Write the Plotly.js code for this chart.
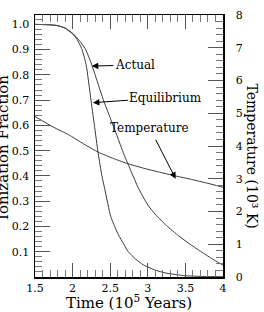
<!DOCTYPE html>
<html>
<head>
<meta charset="utf-8">
<script src="https://cdn.plot.ly/plotly-3.0.1.min.js"></script>
<style>html,body{margin:0;padding:0;background:#fff;}#chart{width:264px;height:312px;}</style>
</head>
<body>
<div id="chart"></div>
<script>
// Actual ionization fraction
var timeActual = [1.5,1.7,1.8,1.9,2.0,2.05,2.1,2.165,2.21,2.255,2.33,2.41,2.5,2.59,2.68,2.78,2.87,3.0,3.1,3.25,3.41,3.55,3.69,3.85,4.0];
var fracActual = [1.0,0.998,0.995,0.985,0.965,0.95,0.932,0.905,0.875,0.84,0.772,0.70,0.63,0.56,0.487,0.417,0.355,0.285,0.248,0.203,0.163,0.132,0.104,0.073,0.047];
// Equilibrium ionization fraction
var timeEquil = [1.5,1.7,1.8,1.9,2.0,2.06,2.12,2.18,2.24,2.29,2.34,2.39,2.43,2.507,2.56,2.61,2.68,2.74,2.84,2.94,3.1,3.25,3.5,3.75,4.0];
var fracEquil = [1.0,0.998,0.995,0.985,0.962,0.94,0.905,0.84,0.71,0.60,0.49,0.40,0.345,0.239,0.20,0.167,0.13,0.10,0.07,0.048,0.027,0.015,0.005,0.002,0.001];
// Temperature (10^3 K)
var timeTemp = [1.5,1.75,1.943,2.15,2.342,2.53,2.72,2.93,3.14,3.36,3.58,3.8,4.0];
var tempVals = [4.90,4.57,4.35,4.06,3.81,3.63,3.47,3.33,3.21,3.09,2.98,2.86,2.74];
// Tick labels
var fracTickVals = [0.1,0.2,0.3,0.4,0.5,0.6,0.7,0.8,0.9,1.0];
var fracTickText = ["0.1","0.2","0.3","0.4","0.5","0.6","0.7","0.8","0.9","1.0"];
var timeTickVals = [1.5,2,2.5,3,3.5,4];
var timeTickText = ["1.5","2","2.5","3","3.5","4"];

var FONT = "DejaVu Serif";
var lineStyle = {color:"#3a3a3a", width:1, shape:"spline", smoothing:0.5};

var traces = [
  {x: timeActual, y: fracActual, mode:"lines", line: lineStyle, hoverinfo:"skip", showlegend:false},
  {x: timeEquil, y: fracEquil, mode:"lines", line: lineStyle, hoverinfo:"skip", showlegend:false},
  {x: timeTemp, y: tempVals, yaxis:"y2", mode:"lines", line: lineStyle, hoverinfo:"skip", showlegend:false}
];

var layout = {
  width: 264, height: 312,
  margin: {l:35, r:41, t:15, b:35, pad:0},
  paper_bgcolor:"#fff", plot_bgcolor:"#fff",
  font: {family: FONT, size: 11, color:"#000"},
  showlegend:false,
  xaxis: {
    range:[1.5,4], tickmode:"array", tickvals: timeTickVals, ticktext: timeTickText,
    ticks:"inside", ticklen:14, tickwidth:1, tickcolor:"#555",
    minor:{dtick:0.1, tick0:1.5, ticks:"inside", ticklen:7, tickwidth:1, tickcolor:"#777"},
    showline:true, linecolor:"#000", linewidth:1.5, mirror:"ticks",
    showgrid:false, zeroline:false,
    tickfont:{family:FONT, size:11},
    title:{text:"Time (10<sup>5</sup> Years)", font:{family:FONT, size:15}, standoff:6}
  },
  yaxis: {
    range:[0,1.037], tickmode:"array", tickvals: fracTickVals, ticktext: fracTickText,
    ticks:"inside", ticklen:15, tickwidth:1, tickcolor:"#555",
    minor:{dtick:0.02, tick0:0, ticks:"inside", ticklen:7, tickwidth:1, tickcolor:"#777"},
    showline:true, linecolor:"#000", linewidth:1.5, mirror:false,
    showgrid:false, zeroline:false,
    tickfont:{family:FONT, size:11}, ticklabelstandoff:2
  },
  yaxis2: {
    overlaying:"y", side:"right", range:[0,8], dtick:1, tick0:0,
    ticks:"inside", ticklen:15, tickwidth:1, tickcolor:"#555",
    minor:{dtick:0.2, tick0:0, ticks:"inside", ticklen:7, tickwidth:1, tickcolor:"#777"},
    showline:true, linecolor:"#000", linewidth:1.5,
    showgrid:false, zeroline:false,
    tickfont:{family:FONT, size:11}, ticklabelstandoff:9
  },
  annotations: [
    {xref:"paper", yref:"paper", x:-0.173, y:0.494, text:"Ionization Fraction", textangle:-90,
     showarrow:false, font:{family:FONT, size:15}, xanchor:"center", yanchor:"middle"},
    {xref:"paper", yref:"paper", x:1.152, y:0.462, text:"Temperature (10³ K)", textangle:90,
     showarrow:false, font:{family:FONT, size:14}, xanchor:"center", yanchor:"middle", borderpad:0},
    {x:2.255, y:0.835, xref:"x", yref:"y", text:"Actual", showarrow:true, arrowhead:2, arrowsize:1.3,
     arrowwidth:1, arrowcolor:"#000", ax:43, ay:-1, font:{family:FONT, size:12}},
    {x:2.27, y:0.69, xref:"x", yref:"y", text:"Equilibrium", showarrow:true, arrowhead:2, arrowsize:1.3,
     arrowwidth:1, arrowcolor:"#000", ax:73, ay:-5, font:{family:FONT, size:12}},
    {x:3.37, y:3.0, xref:"x", yref:"y2", text:"Temperature", showarrow:true, arrowhead:2, arrowsize:1.3,
     arrowwidth:1, arrowcolor:"#000", ax:-26, ay:-51, standoff:0, startstandoff:4, font:{family:FONT, size:12}}
  ]
};

Plotly.newPlot("chart", traces, layout, {staticPlot:true, displayModeBar:false});
</script>
</body>
</html>
